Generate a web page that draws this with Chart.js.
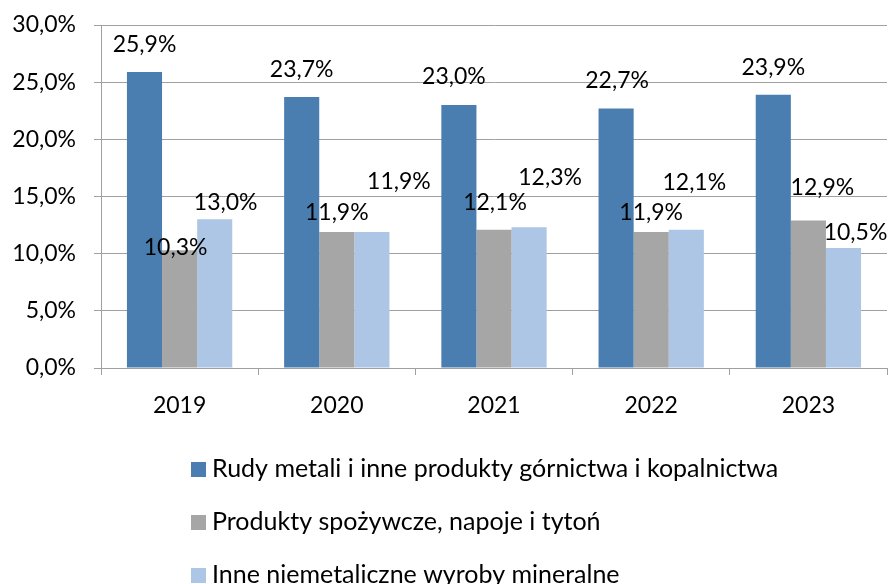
<!DOCTYPE html>
<html>
<head>
<meta charset="utf-8">
<script src="https://cdn.jsdelivr.net/npm/chart.js@4.4.1/dist/chart.umd.min.js"></script>
<style>
  html, body { margin: 0; padding: 0; background: #fff; }
  canvas { display: block; }
</style>
</head>
<body>
<canvas id="chart" width="888" height="584"></canvas>
<script>
// data
const years = ['2019', '2020', '2021', '2022', '2023']
const seriesNames = [
  'Rudy metali i inne produkty górnictwa i kopalnictwa',
  'Produkty spożywcze, napoje i tytoń',
  'Inne niemetaliczne wyroby mineralne'
]
const rudyMetali = [25.9, 23.7, 23.0, 22.7, 23.9]
const produktySpozywcze = [10.3, 11.9, 12.1, 11.9, 12.9]
const inneNiemetaliczne = [13.0, 11.9, 12.3, 12.1, 10.5]

// colours
const colours = ['#4a7eb0', '#a6a6a6', '#adc6e5']
const gridColour = '#a0a0a0'
const fontFamily = 'Lato, "Open Sans", sans-serif'

// label nudges (px from top centre of each bar), like the hand-placed Excel labels
const labelNudges = [
  [[0, -27], [0, -27], [-5, -28], [1, -28], [0, -27]],
  [[-4, -3], [0, -19], [1, -27], [0, -19], [14, -33]],
  [[11, -17], [27, -50], [21, -50], [8, -47], [12, -15]]
]

const pct = v => v.toFixed(1).replace('.', ',') + '%'

// draw value labels above the bars
const valueLabels = {
  id: 'valueLabels',
  afterDatasetsDraw (chart) {
    const ctx = chart.ctx
    ctx.save()
    ctx.font = '23px ' + fontFamily
    ctx.fillStyle = '#000'
    ctx.textAlign = 'center'
    ctx.textBaseline = 'middle'
    chart.data.datasets.forEach((ds, i) => {
      chart.getDatasetMeta(i).data.forEach((bar, j) => {
        const [dx, dy] = labelNudges[i][j]
        ctx.fillText(pct(ds.data[j]), bar.x + dx, bar.y + dy)
      })
    })
    ctx.restore()
  }
}

// vertical legend under the chart
const stackedLegend = {
  id: 'stackedLegend',
  afterDraw (chart) {
    const ctx = chart.ctx
    ctx.save()
    ctx.font = '25px ' + fontFamily
    ctx.textBaseline = 'middle'
    chart.data.datasets.forEach((ds, i) => {
      const y = 469 + i * 53
      ctx.fillStyle = ds.backgroundColor
      ctx.fillRect(191, y - 7, 15, 15)
      ctx.fillStyle = '#000'
      ctx.fillText(ds.label, 212, y)
    })
    ctx.restore()
  }
}

const chart = new Chart(document.getElementById('chart'), {
  type: 'bar',
  data: {
    labels: years,
    datasets: [
      { label: seriesNames[0], data: rudyMetali, backgroundColor: colours[0] },
      { label: seriesNames[1], data: produktySpozywcze, backgroundColor: colours[1] },
      { label: seriesNames[2], data: inneNiemetaliczne, backgroundColor: colours[2] }
    ]
  },
  options: {
    responsive: false,
    animation: false,
    layout: { padding: { top: 0, right: 1, bottom: 156, left: 0 } },
    datasets: {
      bar: { categoryPercentage: 0.67, barPercentage: 1, borderWidth: 0 }
    },
    plugins: {
      legend: { display: false },
      tooltip: { enabled: false }
    },
    scales: {
      x: {
        afterFit (scale) { scale.height = 60 },
        grid: { offset: true, drawOnChartArea: false, tickLength: 7, color: gridColour },
        border: { display: true, color: gridColour },
        ticks: { color: '#000', padding: 17, font: { family: fontFamily, size: 23 } }
      },
      y: {
        min: 0,
        max: 30,
        // fixed axis width, and the tick padding must not push the plot down
        afterFit (scale) {
          scale.width = 101
          scale.paddingTop = 25
          scale.paddingBottom = 0
        },
        grid: { color: gridColour, tickLength: 7 },
        border: { display: true, color: gridColour },
        ticks: {
          stepSize: 5,
          color: '#000',
          padding: 18,
          font: { family: fontFamily, size: 23 },
          callback: v => pct(v)
        }
      }
    }
  },
  plugins: [valueLabels, stackedLegend]
})
</script>
</body>
</html>
